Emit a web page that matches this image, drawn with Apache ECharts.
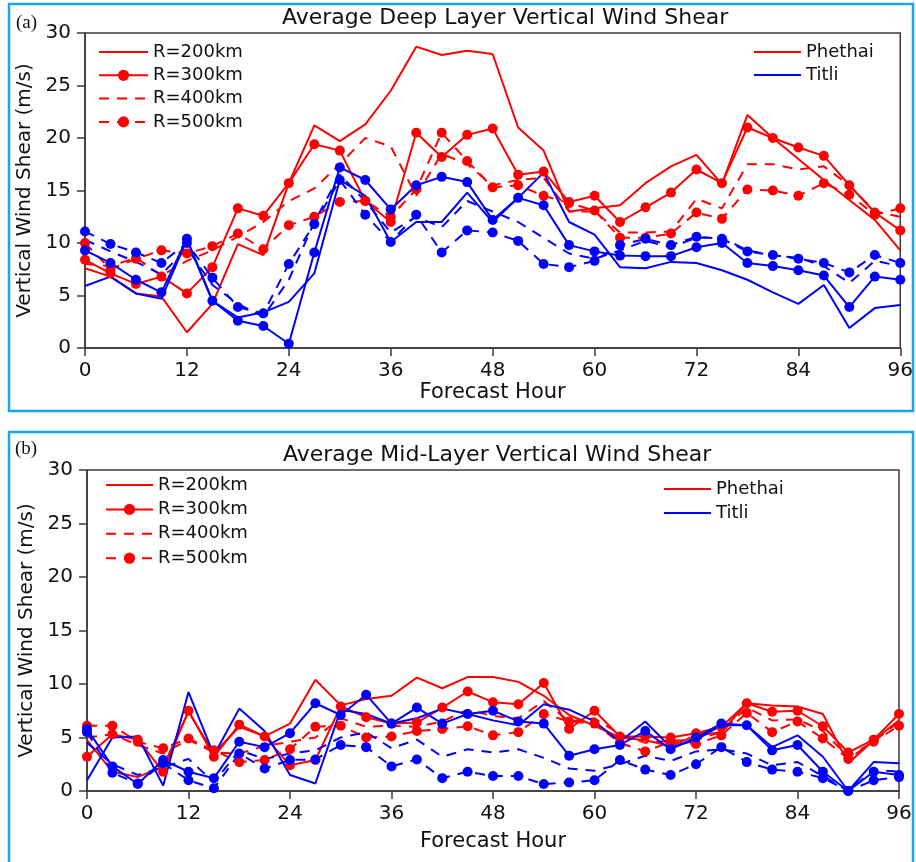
<!DOCTYPE html>
<html><head><meta charset="utf-8">
<script src="https://cdn.jsdelivr.net/npm/echarts@6/dist/echarts.min.js"></script>
<style>html,body{margin:0;padding:0;background:#fff}#c{width:916px;height:862px}</style>
</head><body><div id="c"></div>
<script>
// Forecast hours (x values)
const hours = [0,3,6,9,12,15,18,21,24,27,30,33,36,39,42,45,48,51,54,57,60,63,66,69,72,75,78,81,84,87,90,93,96];
const xTicks = [0,12,24,36,48,60,72,84,96];
const yTicks = [0,5,10,15,20,25,30];

// (a) Deep layer vertical wind shear (m/s)
const deepPhethaiR200 = [7.6,6.8,5.2,4.9,1.5,4.2,9.9,8.85,15.7,21.2,19.7,21.3,24.5,28.7,27.9,28.3,28.0,21.0,18.8,13.0,13.3,13.6,15.7,17.3,18.4,15.6,22.2,20.0,18.0,16.0,14.1,12.2,9.3];
const deepPhethaiR300 = [8.4,7.1,6.1,6.8,5.2,7.7,13.3,12.6,15.7,19.4,18.8,14.0,12.0,20.5,18.2,20.3,20.9,16.5,16.8,13.9,14.5,12.0,13.4,14.8,17.0,15.7,21.0,20.0,19.1,18.3,15.5,12.9,11.2];
const deepPhethaiR400 = [8.0,7.8,8.6,6.9,8.3,9.3,10.6,12.0,14.0,15.2,17.5,20.0,19.2,14.5,18.5,17.5,15.5,16.0,16.2,13.0,13.0,11.0,11.0,11.1,14.2,13.3,17.5,17.5,17.0,17.3,15.5,13.0,12.5];
const deepPhethaiR500 = [10.0,7.5,8.5,9.3,9.0,9.7,10.9,9.4,11.7,12.5,13.9,14.0,12.5,15.1,20.5,17.8,15.3,15.5,14.5,13.8,13.1,10.5,10.5,10.9,12.9,12.3,15.1,15.0,14.5,15.7,14.6,12.7,13.3];
const deepTitliR200 = [5.9,6.8,5.2,4.7,10.3,4.5,2.9,3.4,4.4,7.1,16.0,14.5,10.1,12.0,12.0,14.8,12.0,14.3,16.7,12.0,10.8,7.7,7.6,8.2,8.1,7.4,6.5,5.3,4.2,6.0,1.9,3.8,4.1];
const deepTitliR300 = [9.3,8.1,6.5,5.3,10.4,4.5,2.6,2.1,0.4,9.1,17.2,16.0,13.2,15.5,16.3,15.8,12.2,14.3,13.6,9.8,9.2,8.8,8.75,8.75,9.6,10.0,8.1,7.8,7.4,6.9,3.9,6.8,6.5];
const deepTitliR400 = [10.3,9.2,8.2,7.0,9.5,6.0,4.2,3.0,6.5,12.0,16.5,14.0,11.0,12.5,11.5,14.0,13.0,12.0,10.5,9.0,8.5,9.3,10.2,9.6,10.5,10.5,9.3,8.8,8.6,7.8,6.2,8.3,7.8];
const deepTitliR500 = [11.1,9.9,9.1,8.1,10.0,6.7,3.9,3.3,8.0,11.8,16.0,12.7,10.1,12.7,9.1,11.2,11.0,10.2,8.0,7.7,8.3,9.8,10.4,9.8,10.6,10.4,9.2,8.85,8.5,8.1,7.2,8.85,8.1];

// (b) Mid-layer vertical wind shear (m/s)
const midPhethaiR200 = [4.75,1.8,1.3,2.3,7.4,3.5,6.0,5.1,6.3,10.4,8.0,8.6,8.9,10.6,9.6,10.65,10.65,10.2,8.9,7.1,6.1,5.0,4.75,4.2,5.2,5.5,8.2,8.0,7.9,7.2,2.6,4.75,6.6];
const midPhethaiR300 = [3.2,5.3,4.8,1.8,7.5,3.2,6.2,5.1,2.4,2.9,7.9,6.9,6.3,6.4,7.8,9.3,8.3,8.1,10.1,5.8,7.5,5.1,5.1,5.0,5.4,6.0,8.2,7.4,7.5,6.05,3.6,4.8,7.2];
const midPhethaiR400 = [5.0,5.3,4.3,3.5,4.8,3.6,3.5,4.2,4.6,5.0,6.8,6.0,6.1,6.0,6.5,7.6,7.0,6.8,8.4,6.5,6.8,5.3,4.5,4.7,4.8,5.5,7.8,6.6,6.7,5.6,3.2,4.6,6.5];
const midPhethaiR500 = [6.1,6.1,4.6,4.0,4.9,3.8,2.7,2.9,3.9,6.0,6.1,5.0,5.1,5.6,5.8,6.05,5.2,5.5,7.2,6.5,6.3,4.5,3.7,4.6,4.4,5.2,7.3,5.5,6.5,4.9,3.0,4.6,6.1];
const midTitliR200 = [1.0,5.0,5.1,0.5,9.25,3.35,7.7,5.6,1.5,0.7,7.6,7.2,6.3,6.8,7.7,7.2,6.6,6.15,8.1,7.6,6.5,4.6,6.5,4.1,4.75,6.15,6.15,4.1,5.2,3.2,0,2.7,2.6];
const midTitliR300 = [5.8,2.3,0.65,2.9,1.8,1.2,4.6,4.1,5.4,8.2,7.1,9.0,6.3,7.8,6.3,7.2,7.5,6.5,6.3,3.3,3.9,4.3,5.6,3.9,5.0,6.3,6.15,3.8,4.3,1.8,0,1.8,1.5];
const midTitliR400 = [4.5,2.5,1.5,2.2,3.0,0.8,3.8,3.0,3.5,3.8,5.0,5.5,4.0,4.8,3.2,3.9,3.6,3.9,3.1,2.1,1.9,2.5,3.3,2.8,3.7,3.9,3.5,2.4,2.7,1.4,0,2.0,1.8];
const midTitliR500 = [5.5,1.7,0.7,2.6,1.0,0.25,3.5,2.1,2.9,2.95,4.3,4.1,2.3,2.95,1.2,1.8,1.4,1.4,0.65,0.8,1.0,2.9,2.0,1.5,2.5,4.1,2.7,2.0,1.8,1.2,0,1.0,1.3];

const radiusNames = ['R=200km','R=300km','R=400km','R=500km'];
const stormNames = ['Phethai','Titli'];
const titles = ['Average Deep Layer Vertical Wind Shear','Average Mid-Layer Vertical Wind Shear'];

const FONT = 'DejaVu Sans';
const RED = '#ff0000', BLUE = '#0000ff', AX = '#3a3a3a';
const DASH = [10, 8];

function mk(name, vals, color, dashed, dots, idx) {
  return {
    type: 'line', name: name, xAxisIndex: idx, yAxisIndex: idx,
    data: hours.map((h, i) => [h, vals[i]]),
    symbol: dots ? 'circle' : 'none', symbolSize: 10, showSymbol: dots,
    lineStyle: { color: color, width: 2, type: dashed ? DASH : 'solid' },
    itemStyle: { color: color },
    emphasis: { disabled: true },
    clip: true
  };
}
const styles = [[false,false],[false,true],[true,false],[true,true]];
const deepSets = [[deepPhethaiR200,deepPhethaiR300,deepPhethaiR400,deepPhethaiR500],[deepTitliR200,deepTitliR300,deepTitliR400,deepTitliR500]];
const midSets = [[midPhethaiR200,midPhethaiR300,midPhethaiR400,midPhethaiR500],[midTitliR200,midTitliR300,midTitliR400,midTitliR500]];
const series = [];
[deepSets, midSets].forEach((sets, p) => {
  sets.forEach((arrs, s) => {
    arrs.forEach((vals, r) => {
      const nm = s === 0 ? radiusNames[r] : 'Titli ' + radiusNames[r];
      series.push(mk(nm, vals, s === 0 ? RED : BLUE, styles[r][0], styles[r][1], p));
    });
  });
});
series.push({type:'line', name:'Phethai', xAxisIndex:0, yAxisIndex:0, data:[], symbol:'none', lineStyle:{color:RED,width:2}, itemStyle:{color:RED}});
series.push({type:'line', name:'Titli', xAxisIndex:0, yAxisIndex:0, data:[], symbol:'none', lineStyle:{color:BLUE,width:2}, itemStyle:{color:BLUE}});

const grids = [
  { left: 85, top: 33, width: 820, height: 315 },
  { left: 87, top: 470, width: 812, height: 321 }
];
const xNameGap = [33, 40];
function xAx(i) {
  return {
    gridIndex: i, type: 'value', min: 0, max: 96, interval: 12,
    name: 'Forecast Hour', nameLocation: 'middle', nameGap: xNameGap[i],
    nameTextStyle: { fontFamily: FONT, fontSize: 21, color: '#111' },
    axisLine: { show: true, onZero: false, lineStyle: { color: AX, width: 1.5 } },
    axisTick: { show: true, length: 8, lineStyle: { color: AX, width: 1.5 } },
    axisLabel: { fontFamily: FONT, fontSize: 20, color: '#111', margin: 13,
      formatter: v => xTicks.indexOf(v) >= 0 ? String(v) : '' },
    splitLine: { show: false }
  };
}
function yAx(i) {
  return {
    gridIndex: i, type: 'value', min: 0, max: 30, interval: 5,
    name: 'Vertical Wind Shear (m/s)', nameLocation: 'middle', nameGap: 44,
    nameTextStyle: { fontFamily: FONT, fontSize: 20, color: '#111' },
    axisLine: { show: true, lineStyle: { color: AX, width: 1.5 } },
    axisTick: { show: true, length: 8, lineStyle: { color: AX, width: 1.5 } },
    axisLabel: { fontFamily: FONT, fontSize: 20, color: '#111', margin: 14,
      formatter: v => yTicks.indexOf(v) >= 0 ? String(v) : '' },
    splitLine: { show: false }
  };
}
// legend items: hide marker for entries without dots
const dotted = { 'R=200km': false, 'R=300km': true, 'R=400km': false, 'R=500km': true, 'Phethai': false, 'Titli': false };
function lg(names, left, top, gap, w) {
  return {
    data: names.map(n => dotted[n] ? { name: n } : { name: n, itemStyle: { opacity: 0 } }),
    orient: 'vertical', left: left, top: top, padding: 0,
    itemGap: gap, itemWidth: w, itemHeight: 14, selectedMode: false,
    textStyle: { fontFamily: FONT, fontSize: 18, color: '#111', lineHeight: 20 }
  };
}

const option = {
  animation: false,
  backgroundColor: '#ffffff',
  title: [
    { text: titles[0], left: 282, top: 7, padding: 0, textStyle: { fontFamily: FONT, fontSize: 22, fontWeight: 'normal', color: '#111' } },
    { text: titles[1], left: 283, top: 444, padding: 0, textStyle: { fontFamily: FONT, fontSize: 22, fontWeight: 'normal', color: '#111' } }
  ],
  legend: [
    lg(radiusNames, 98, 42, 3.3, 49),
    lg(stormNames, 753, 42, 3, 47),
    lg(radiusNames, 105, 475, 4.4, 47),
    lg(stormNames, 663, 479, 4, 47)
  ],
  grid: grids.map(g => Object.assign({ show: true, borderColor: AX, borderWidth: 1.5, backgroundColor: 'transparent' }, g)),
  xAxis: [xAx(0), xAx(1)],
  yAxis: [yAx(0), yAx(1)],
  series: series,
  graphic: [
    { type: 'rect', shape: { x: 9, y: 4, width: 904, height: 407 }, style: { fill: 'none', stroke: '#18a8e8', lineWidth: 2.5 }, silent: true, z: 0 },
    { type: 'rect', shape: { x: 9, y: 432, width: 904, height: 440 }, style: { fill: 'none', stroke: '#18a8e8', lineWidth: 2.5 }, silent: true, z: 0 },
    { type: 'text', left: 16, top: 14, style: { text: '(a)', font: '19px "Liberation Serif", serif', fill: '#111' } },
    { type: 'text', left: 15, top: 440, style: { text: '(b)', font: '19px "Liberation Serif", serif', fill: '#111' } }
  ]
};
const chart = echarts.init(document.getElementById('c'), null, { renderer: 'canvas' });
chart.setOption(option);
</script>
</body></html>
